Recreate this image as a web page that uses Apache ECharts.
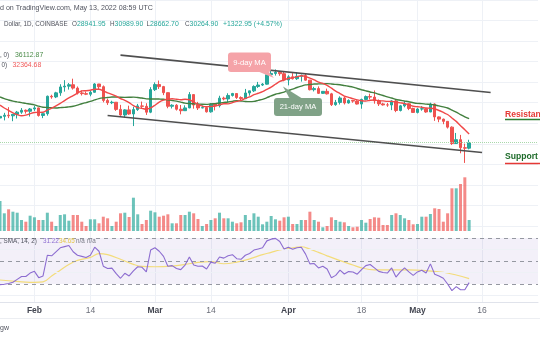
<!DOCTYPE html>
<html><head><meta charset="utf-8">
<script src="https://cdn.jsdelivr.net/npm/echarts@6/dist/echarts.min.js"></script>
<style>html,body{margin:0;padding:0;background:#fff}#c{width:540px;height:340px}</style>
</head><body><div id="c"></div><script>
// ---- data ----
const startDate = [2022, 0, 24];
const totalDays = 126; // Jan 24 .. May 29
const opens = [36276,36680,36960,36820,37180,37710,38160,37920,38480,38740,36900,37330,41570,41410,42400,43840,44040,44380,43560,42390,42210,42070,42540,44560,43900,40560,40000,40120,38380,37010,38260,37270,38330,39230,39120,37700,43190,44420,43920,42450,39140,39400,38420,38060,38740,41980,39440,38730,38810,37790,39670,39280,41120,40920,41770,42240,41260,41000,42370,42890,43960,44310,44520,46820,47130,47430,47060,45530,46300,45840,46420,46600,45500,43170,43440,42280,42770,42160,39530,40080,41150,39940,40550,40390,39680,40800,41500,41370,40480,39710,39470,39450,40430,38110,39240,39740,38600,37640,38470,38530,37750,39690,36550,36010,35470,34060,30080,31010,29050,28941.95];
const closes = [36680,36960,36820,37180,37710,38160,37920,38480,38740,36900,37330,41570,41410,42400,43840,44040,44380,43560,42390,42210,42070,42540,44560,43900,40560,40000,40120,38380,37010,38260,37270,38330,39230,39120,37700,43190,44420,43920,42450,39140,39400,38420,38060,38740,41980,39440,38730,38810,37790,39670,39280,41120,40920,41770,42240,41260,41000,42370,42890,43960,44310,44520,46820,47130,47430,47060,45530,46300,45840,46420,46600,45500,43170,43440,42280,42770,42160,39530,40080,41150,39940,40550,40390,39680,40800,41500,41370,40480,39710,39470,39450,40430,38110,39240,39740,38600,37640,38470,38530,37750,39690,36550,36010,35470,34060,30080,31010,29050,28941.95,30264.90];
const highs = [37550,37540,38920,37230,38000,38700,38360,38720,39260,38830,37400,41740,41940,42660,44500,45490,44790,45850,43950,43000,42730,42880,44760,44580,44200,40990,40480,40140,39480,38430,39280,39000,39710,40280,39870,43780,44950,45400,44100,42500,39630,39670,39450,39370,42590,42000,40200,39320,39040,39900,39870,41700,41470,42300,42400,42300,41550,43360,42900,44230,45070,44780,46900,48190,48100,47680,47600,46690,47200,47440,46860,47110,45500,43880,43970,42800,43430,42400,40680,41560,41470,40830,40700,40600,40990,41760,42200,42980,40800,39990,39940,40600,40780,39470,40380,39900,38800,38680,39170,38650,40000,39840,36660,36120,35500,34250,32650,32170,30030,30989.90];
const lows = [32917,35700,36250,35500,36160,37300,37350,36630,38010,36620,36250,36850,40970,41130,41680,42700,43200,43200,42000,41760,41860,41570,42440,43320,40090,39460,39660,38020,36830,36360,37050,34320,38010,38600,37030,37460,42850,43350,41850,38650,38600,38100,37170,38000,38660,38550,38230,38660,37600,37570,38130,38850,40580,40150,41500,40930,40480,40880,41720,42600,43600,44070,44400,46620,46600,46550,45220,44230,45660,45540,45140,45370,43000,42750,42120,42140,42000,39200,39260,39570,39570,39780,40000,39560,38540,40550,40830,39760,39200,39300,39000,38200,37700,37880,38880,38200,37600,37390,38060,37550,37700,35580,35260,34770,33720,29730,29950,27700,25350,28662.70];
const volumes = [30,17.7,21.7,19.3,18.3,11,9.3,15.3,13.7,11,11,18.3,9.3,5,16,16.7,10.3,16,16,9.3,5,11.7,11.7,7.7,14.3,12.7,5,9.3,17.7,18.3,14,33.3,16.7,7,11,20.3,18.7,14.3,15.3,16.7,7.7,7.7,16,16,19.3,17.7,12,5,7,11,12.7,18.3,12.7,12.7,9.3,7.7,8.7,16,11,17.7,14.3,6.7,9.3,15,11.7,10.3,13.7,14.3,7,7,11,11,19.3,11,9.3,3.7,5,13.7,11,9.3,8.7,5,3.7,4.3,11,8.3,12,13.7,13.3,6,6,16,17.7,16,12.7,11,6.7,7,14.3,14.3,17,22.7,22,9.3,17.7,42.7,42.7,47,53.7,11];
const ma9 = [39410,38720,38120,37540,37100,36820,36980,37350,37630,37650,37690,38220,38690,39210,39840,40520,41180,41710,42320,42870,42920,43050,43290,43290,42910,42420,42040,41590,41020,40590,40010,39310,38800,38640,38380,38720,39390,40160,40630,40830,40950,40860,40740,40860,40730,40170,39600,39190,39040,39070,39170,39510,39750,39730,40040,40320,40560,41070,41430,41950,42300,42700,43260,43810,44490,45170,45520,45900,46100,46340,46570,46420,45980,45540,45010,44700,44240,43540,42840,42230,41610,41320,40980,40690,40480,40400,40610,40650,40490,40440,40320,40320,40150,39970,39780,39470,39150,39020,38910,38720,38640,38470,38110,37630,37130,36290,35460,34410,33430,32364.68];
const ma21 = [41400,40980,40670,40380,40200,40030,39840,39680,39490,39160,38910,38840,38760,38720,38800,38870,39000,39140,39420,39760,40040,40320,40680,41010,41180,41280,41380,41400,41330,41310,41320,41370,41260,41150,40930,40900,40910,40890,40840,40690,40550,40380,40160,39890,39800,39740,39680,39620,39590,39720,39770,39950,40070,40190,40340,40510,40410,40310,40260,40330,40580,40820,41220,41660,42070,42310,42600,42960,43300,43710,44040,44330,44430,44550,44580,44600,44640,44570,44460,44380,44190,44010,43810,43470,43170,42890,42620,42380,42070,41760,41430,41140,40780,40600,40420,40250,40000,39830,39780,39670,39600,39440,39220,38990,38720,38210,37710,37120,36570,36112.87];
const rsi = [29.5,29.8,30.5,31.5,34,36.5,36.5,39.5,41,35.5,37,55,54.5,58,61.5,62.5,63.5,58,55,54,53,55,62,58.5,45.5,43.5,43.8,39,35,39.3,37,41.5,45,44.5,40.5,59.5,61.5,58.5,54,45.5,46,43.5,42.5,46.5,53.5,46.5,45.5,45.7,43,49,48,53.5,52.5,54.5,55.5,52,51.5,55,56.5,59.5,60.5,61.5,67.5,69,69.7,67,60.5,62,60.2,61.5,62,56,47.5,47.8,44,45.5,43,35.5,37.5,42,38.7,40.8,40.5,38.5,42.5,46,47,44,41,40,39.5,44,36,40.5,44,40.5,37.5,40.5,42,39.5,47.5,38.5,37,35,30,24.2,27.7,25,25,31.22];
const rsiMa = [[0,33.5],[3,32.5],[6,31.6],[8,31.4],[10,31.8],[12,37],[14,42],[16,47],[18,50.5],[21,53.2],[23,56.5],[25,55.5],[28,51.5],[31,47.1],[33,45.3],[36,45],[40,45.6],[43,47],[46,48.8],[49,49.4],[52,47.6],[55,49],[58,51.8],[61,55.5],[63,57.5],[65,59.6],[67,60.8],[70,62.4],[72,60.3],[74,57.5],[76,54.5],[79,50.3],[82,46.5],[84,44],[87,42.3],[91,42.2],[95,42.2],[99,41.6],[103,40.2],[106,37.8],[109,34.65]];
const tickDates = ['2022-02-01','2022-02-14','2022-03-01','2022-03-14','2022-04-01','2022-04-18','2022-05-01','2022-05-16'];
const tickLabels = ['Feb','14','Mar','14','Apr','18','May','16'];
const upperTrend = [['2022-02-21', 51580], ['2022-05-18', 42470]];
const lowerTrend = [['2022-02-18', 36900], ['2022-05-16', 27880]];
const lastClose = 30264.90;
const rsiLevels = [70, 50, 30];
const rsiGridLevels = [60, 40, 20];

// ---- build ----
const dates = [];
const d0 = Date.UTC(startDate[0], startDate[1], startDate[2]);
for (let i = 0; i < totalDays; i++) dates.push(new Date(d0 + i * 86400000).toISOString().slice(0, 10));

const UP = '#26a69a', DOWN = '#ef5350';
const candles = opens.map((o, i) => [o, closes[i], lows[i], highs[i]]);
const vol = volumes.map((v, i) => ({ value: v, itemStyle: { color: closes[i] >= opens[i] ? 'rgba(38,166,154,0.68)' : 'rgba(239,83,80,0.68)' } }));
const isTick = (idx, val) => tickDates.indexOf(val) >= 0;

const L = -0.5, W = 538.5;
const FONT = '"Liberation Sans", Arial, sans-serif';
const FS = 6.3;
const chart = echarts.init(document.getElementById('c'), null, { renderer: 'canvas' });

function hiddenX(gi, extra) {
  return Object.assign({ type: 'category', gridIndex: gi, data: dates, boundaryGap: false,
    axisLine: { show: false }, axisTick: { show: false }, axisLabel: { show: false }, splitLine: { show: false } }, extra || {});
}

const txt = (x, y, text, fill, size, weight, extra) => ({
  type: 'text', x: x, y: y, silent: true, z: 100,
  style: Object.assign({ text: text, fill: fill, font: (weight || 'normal') + ' ' + size + 'px ' + FONT, verticalAlign: 'middle', align: 'left' }, extra || {})
});
const rich = { l: { fill: '#50535e', fontSize: FS, fontFamily: FONT }, v: { fill: UP, fontSize: 6.9, fontFamily: FONT } };
const richTxt = (x, y, text) => ({ type: 'text', x: x, y: y, silent: true, z: 100,
  style: { text: text, rich: rich, verticalAlign: 'middle', align: 'left', font: FS + 'px ' + FONT } });

chart.setOption({
  animation: false,
  backgroundColor: '#ffffff',
  grid: [
    { left: L, width: W, top: 0, height: 302 },
    { left: L, width: W, top: -7.75, height: 233.75 },
    { left: L, width: W, top: 171, height: 60 },
    { left: L, width: W, top: 233, height: 69 }
  ],
  xAxis: [
    hiddenX(0, { splitLine: { show: true, interval: isTick, lineStyle: { color: '#eef1f6', width: 1 } } }),
    hiddenX(1),
    hiddenX(2),
    hiddenX(3, {
      axisLine: { show: true, lineStyle: { color: '#e0e3eb' } },
      axisLabel: { show: true, interval: isTick, margin: 4,
        formatter: (val) => { const t = tickLabels[tickDates.indexOf(val)]; return /^[A-Za-z]/.test(t) ? '{b|' + t + '}' : '{n|' + t + '}'; },
        rich: { b: { fontSize: 8.5, fontWeight: 'bold', color: '#434651', fontFamily: FONT }, n: { fontSize: 8.5, color: '#6a6d78', fontFamily: FONT } } }
    })
  ],
  yAxis: [
    { gridIndex: 0, type: 'value', min: 0, max: 1, show: false },
    { gridIndex: 1, type: 'value', min: 10000, max: 65000, interval: 5000, axisLine: { show: false }, axisTick: { show: false }, axisLabel: { show: false }, splitLine: { show: true, lineStyle: { color: '#eef1f6' } } },
    { gridIndex: 2, type: 'value', min: 0, max: 60, show: false },
    { gridIndex: 3, type: 'value', min: 14.35, max: 74.35, show: false }
  ],
  series: [
    { type: 'candlestick', xAxisIndex: 1, yAxisIndex: 1, data: candles, barWidth: 3, z: 3,
      itemStyle: { color: UP, color0: DOWN, borderColor: UP, borderColor0: DOWN, borderWidth: 1 },
      markLine: { silent: true, symbol: ['none', 'none'], label: { show: false }, animation: false,
        data: [
          { yAxis: lastClose, lineStyle: { type: 'dotted', color: '#a9d8ab', width: 1 } },
          [{ coord: upperTrend[0], lineStyle: { color: '#4f4f4f', width: 1.6, type: 'solid' } }, { coord: upperTrend[1] }],
          [{ coord: lowerTrend[0], lineStyle: { color: '#4f4f4f', width: 1.6, type: 'solid' } }, { coord: lowerTrend[1] }]
        ] } },
    { type: 'line', xAxisIndex: 1, yAxisIndex: 1, data: ma21, showSymbol: false, smooth: 0.3, z: 4, lineStyle: { color: '#43803f', width: 1.4 } },
    { type: 'line', xAxisIndex: 1, yAxisIndex: 1, data: ma9, showSymbol: false, smooth: 0.3, z: 4, lineStyle: { color: '#f04848', width: 1.4 } },
    { type: 'bar', xAxisIndex: 2, yAxisIndex: 2, data: vol, barWidth: 3, z: 2 },
    { type: 'line', xAxisIndex: 3, yAxisIndex: 3, data: rsiMa.map(p => [dates[p[0]], p[1]]), showSymbol: false, smooth: 0.4, z: 4,
      lineStyle: { color: '#f3dc7a', width: 1.2 },
      markLine: { silent: true, symbol: ['none', 'none'], label: { show: false },
        data: rsiGridLevels.map(v => ({ yAxis: v, lineStyle: { color: '#eef1f6', type: 'solid', width: 1 } })) } },
    { type: 'line', xAxisIndex: 3, yAxisIndex: 3, data: rsi, showSymbol: false, z: 5,
      lineStyle: { color: '#8c6cd0', width: 1.1 },
      markArea: { silent: true, itemStyle: { color: 'rgba(126,87,194,0.09)' }, data: [[{ yAxis: 30 }, { yAxis: 70 }]] },
      markLine: { silent: true, symbol: ['none', 'none'], label: { show: false },
        data: rsiLevels.map(v => ({ yAxis: v, lineStyle: { color: '#9598a1', type: [4, 4], width: 1 } })) } }
  ],
  graphic: [
    txt(0, 8, 'd on TradingView.com, May 13, 2022 08:59 UTC', '#50535e', 7.1),
    txt(4, 24, 'Dollar, 1D, COINBASE', '#50535e', FS),
    richTxt(72, 24, '{l|O}{v|28941.95}'),
    richTxt(110, 24, '{l|H}{v|30989.90}'),
    richTxt(146.5, 24, '{l|L}{v|28662.70}'),
    richTxt(185, 24, '{l|C}{v|30264.90}'),
    richTxt(223, 24, '{v|+1322.95 (+4.57%)}'),
    txt(0, 55, ', 0)', '#50535e', FS),
    txt(15, 55, '36112.87', '#4c8c4a', 6.9),
    txt(1.5, 65.5, '0)', '#50535e', FS),
    txt(12.5, 65.5, '32364.68', '#f05a5a', 6.9),
    txt(0, 241, ', SMA, 14, 2)', '#50535e', FS),
    txt(43, 241, '31.22', '#8c6cd0', FS),
    txt(59, 241, '34.65', '#e6c84a', FS),
    txt(76, 241, 'n/a', '#787b86', FS),
    txt(87, 241, 'n/a', '#787b86', FS),
    // 9-day MA callout
    { type: 'polygon', z: 90, silent: true, shape: { points: [[257, 71], [268, 71], [274, 78]] }, style: { fill: '#f5a3a8' } },
    { type: 'rect', z: 90, silent: true, shape: { x: 228, y: 52.5, width: 43, height: 19.5, r: 3 }, style: { fill: '#f5a3a8' } },
    txt(249.5, 62.5, '9-day MA', '#ffffff', 7.6, 'normal', { align: 'center' }),
    // 21-day MA callout
    { type: 'polygon', z: 90, silent: true, shape: { points: [[283, 86.5], [290, 99], [303, 99]] }, style: { fill: '#80a287' } },
    { type: 'rect', z: 90, silent: true, shape: { x: 274, y: 98, width: 48, height: 18, r: 3 }, style: { fill: '#80a287' } },
    txt(298, 107, '21-day MA', '#ffffff', 7.6, 'normal', { align: 'center' }),
    // Resistance / Support
    txt(505, 114.5, 'Resistance', '#e53935', 8.6, 'bold'),
    { type: 'line', z: 100, silent: true, shape: { x1: 505, y1: 119.5, x2: 540, y2: 119.5 }, style: { stroke: '#2e7d32', lineWidth: 1.5 } },
    txt(505, 157, 'Support', '#1e6b2a', 8.6, 'bold'),
    { type: 'line', z: 100, silent: true, shape: { x1: 505, y1: 163.5, x2: 540, y2: 163.5 }, style: { stroke: '#e53935', lineWidth: 1.5 } },
    // bottom
    { type: 'line', z: 100, silent: true, shape: { x1: 0, y1: 318.5, x2: 540, y2: 318.5 }, style: { stroke: '#eceef2', lineWidth: 1 } },
    txt(0, 328, 'gw', '#50535e', 7)
  ]
});
</script></body></html>
